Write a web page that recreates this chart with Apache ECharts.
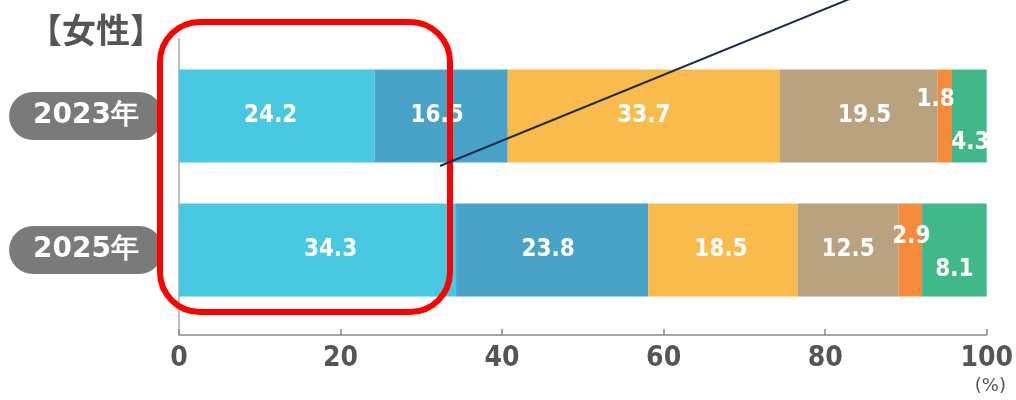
<!DOCTYPE html>
<html><head><meta charset="utf-8">
<script src="https://cdn.jsdelivr.net/npm/echarts@6/dist/echarts.min.js"></script>
<style>html,body{margin:0;padding:0;background:#fff}#c{width:1016px;height:400px}</style>
</head><body><div id="c"></div>
<script>
const categories = ['2023年', '2025年'];
const seriesNames = ['s1', 's2', 's3', 's4', 's5', 's6'];
const s1 = [24.2, 34.3];
const s2 = [16.5, 23.8];
const s3 = [33.7, 18.5];
const s4 = [19.5, 12.5];
const s5 = [1.8, 2.9];
const s6 = [4.3, 8.1];
const xTicks = [0, 20, 40, 60, 80, 100];

const colors = ['#48C8E1', '#49A2C8', '#F8BB4C', '#B8A27F', '#F58A3C', '#41B88A'];
const allValues = [s1, s2, s3, s4, s5, s6];
// label offsets [series][category]
const offsets = [
  [[-6, 0], [13, 0]],
  [[-4, 0], [-4, 0]],
  [[0, 0], [-2, 0]],
  [[6, 0], [0, 0]],
  [[-9, -16], [1, -13]],
  [[1, 27], [0, 20]]
];

const chart = echarts.init(document.getElementById('c'));
const series = allValues.map((vals, si) => ({
  name: seriesNames[si],
  type: 'bar',
  stack: 'total',
  barWidth: 93,
  itemStyle: { color: colors[si] },
  label: {
    show: true,
    position: 'inside',
    color: '#fff',
    fontFamily: 'DejaVu Sans Condensed',
    fontWeight: 'bold',
    fontSize: 24
  },
  data: vals.map((v, ci) => ({ value: v, label: { offset: offsets[si][ci] } }))
}));

chart.setOption({
  animation: false,
  grid: { left: 179, right: 21, top: 49, bottom: 83 },
  xAxis: {
    type: 'value', min: xTicks[0], max: xTicks[xTicks.length - 1], interval: 20,
    offset: 18,
    splitLine: { show: false },
    axisLine: { show: true, lineStyle: { color: '#888', width: 1.5 } },
    axisTick: { show: true, inside: true, length: 6, lineStyle: { color: '#888', width: 1.5 } },
    axisLabel: { color: '#555', fontFamily: 'DejaVu Sans Condensed', fontWeight: 'bold', fontSize: 28, margin: 10 }
  },
  yAxis: {
    type: 'category', data: categories, inverse: true,
    axisLine: { show: false }, axisTick: { show: false },
    axisLabel: {
      color: '#fff', fontFamily: 'DejaVu Sans', fontWeight: 'bold', fontSize: 28,
      lineHeight: 32, backgroundColor: '#7A7A7A', borderRadius: 24,
      padding: [8, 24, 8, 24], margin: 16
    }
  },
  series: series,
  graphic: [
    { type: 'text', left: 28, top: 13, style: { text: '【女性】', fill: '#555', font: 'bold 34px "Noto Sans CJK JP"' } },
    { type: 'text', right: 10, top: 377, style: { text: '(%)', fill: '#555', font: '18px "DejaVu Sans"' } },
    { type: 'line', shape: { x1: 179, y1: 38, x2: 179, y2: 335 }, style: { stroke: '#aaa', lineWidth: 1.5 } },
    { type: 'rect', shape: { x: 160, y: 22, width: 290, height: 290, r: 40 }, style: { fill: 'none', stroke: '#FF0000', lineWidth: 6 }, z: 100 },
    { type: 'line', shape: { x1: 440, y1: 166, x2: 852, y2: -2 }, style: { stroke: '#1C2B4F', lineWidth: 2 }, z: 100 }
  ]
});
</script></body></html>
